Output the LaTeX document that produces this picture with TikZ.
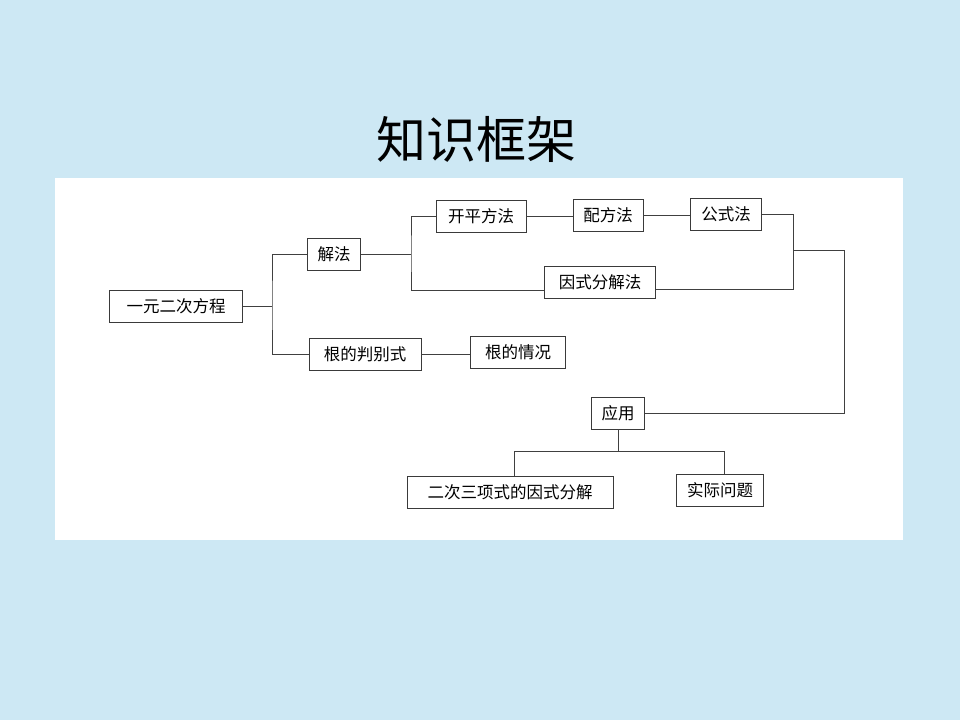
\documentclass[tikz,border=0pt]{standalone}
\usepackage{fontspec}
\setmainfont{Noto Sans CJK SC}
\usetikzlibrary{positioning, calc}
\definecolor{slideblue}{HTML}{CDE8F4}
\definecolor{boxborder}{HTML}{3A3A3A}
\definecolor{linkgray}{HTML}{404040}

\begin{document}
\begin{tikzpicture}[
      x=1pt, y=-1pt,
      box/.style={draw=boxborder, line width=0.9pt, fill=white,
        minimum height=32pt, inner sep=2pt, font=\fontsize{16.5}{18}\selectfont},
      wd/.style={minimum width=#1},
      link/.style={draw=linkgray, line width=0.9pt}
    ]
      % page and white panel
      \fill[slideblue] (0,0) rectangle (960,720);
      \fill[white] (55,178) rectangle (903,540);
      \node[font=\fontsize{50}{54}\selectfont] (title) at (476,139) {知识框架};

      % boxes
      \node[box, wd=133pt] (root) at (176,306) {一元二次方程};
      \node[box, wd=53pt] (jiefa) at (334,254) {解法};
      \node[box, wd=112pt] (panbie) at (365,354) {根的判别式};
      \node[box, wd=95pt] (qingkuang) at (518,352) {根的情况};
      \node[box, wd=90pt] (kaiping) at (481,216) {开平方法};
      \node[box, wd=70pt] (peifang) at (608,215) {配方法};
      \node[box, wd=71pt] (gongshi) at (726,214) {公式法};
      \node[box, wd=111pt] (yinshi) at (600,282) {因式分解法};
      \node[box, wd=53pt] (yingyong) at (618,413) {应用};
      \node[box, wd=206pt] (erci) at (510,492) {二次三项式的因式分解};
      \node[box, wd=87pt] (shiji) at (720,490) {实际问题};

      % junctions
      \coordinate (rootfork) at (272,306);
      \coordinate (jiefafork) at (411,254);
      \coordinate (yinshiin) at ($(yinshi.south west)+(0,-8)$);
      \coordinate (yinshiout) at ($(yinshi.south east)+(0,-9)$);
      \coordinate (methodjoin) at (793,250);
      \coordinate (rightedge) at (844,250);
      \coordinate (yingyongfork) at (618,451);

      % connectors
      \draw[link] (root.east) -- (rootfork);
      \draw[link] (jiefa.west) -| (rootfork) |- (panbie.west);
      \draw[link] (panbie.east) -- (panbie.east -| qingkuang.west);
      \draw[link] (jiefa.east) -- (jiefafork);
      \draw[link] (kaiping.west) -| (jiefafork) |- (yinshiin);
      \draw[link] (kaiping.east) -- (kaiping.east -| peifang.west);
      \draw[link] (peifang.east) -- (peifang.east -| gongshi.west);
      \draw[link] (gongshi.east) -| (methodjoin) |- (yinshiout);
      \draw[link] (methodjoin) -- (rightedge) |- (yingyong.east);
      \draw[link] (yingyong.south) -- (yingyongfork);
      \draw[link] (yingyongfork) -| ($(erci.north)+(4,0)$);
      \draw[link] (yingyongfork) -| ($(shiji.north)+(4,0)$);
    \end{tikzpicture}
\end{document}
